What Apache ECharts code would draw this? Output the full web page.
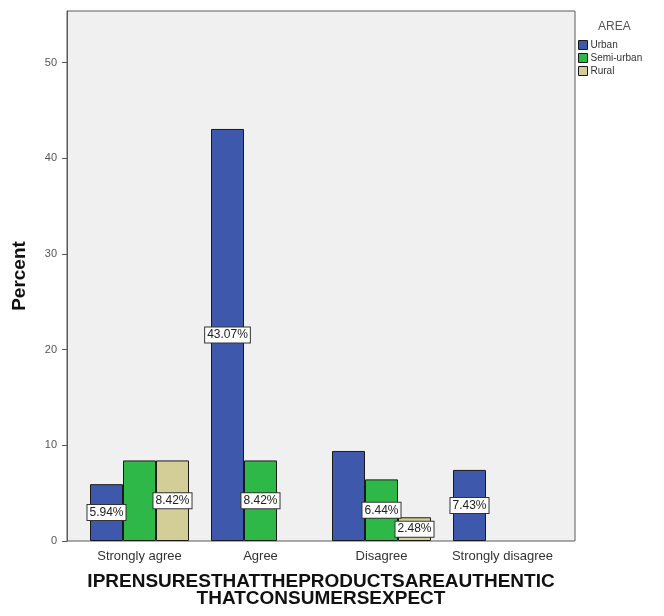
<!DOCTYPE html>
<html>
<head>
<meta charset="utf-8">
<script src="https://cdn.jsdelivr.net/npm/echarts@6/dist/echarts.min.js"></script>
<style>
  html, body { margin: 0; padding: 0; background: #fff; }
  #chart { width: 664px; height: 616px; }
</style>
</head>
<body>
<div id="chart"></div>
<script>
// Response categories on the x axis
const categories = ['Strongly agree', 'Agree', 'Disagree', 'Strongly disagree'];

// Percent of respondents, by area
const urban = [5.94, 43.07, 9.41, 7.43];
const semiUrban = [8.42, 8.42, 6.44, null];
const rural = [8.42, null, 2.48, null];

// Which bars carry a value label
const urbanLabelShown = [true, true, false, true];
const semiUrbanLabelShown = [false, true, true, false];
const ruralLabelShown = [true, false, true, false];

const yTicks = [0, 10, 20, 30, 40, 50];
const yMax = 55.4;

const seriesNames = ['Urban', 'Semi-urban', 'Rural'];
const seriesColors = ['#3e58ac', '#2eb848', '#d3ce97'];

const FONT = '"Liberation Sans", Arial, sans-serif';

function barData(values, shown) {
  return values.map((v, i) => ({
    value: v,
    label: { show: v != null && shown[i] }
  }));
}

const valueLabel = {
  position: 'inside',
  formatter: p => p.value.toFixed(2) + '%',
  fontFamily: FONT,
  fontSize: 12,
  color: '#222',
  backgroundColor: '#ffffff',
  borderColor: '#333',
  borderWidth: 1,
  padding: [2, 2, 1, 2]
};

function makeSeries(name, values, shown, color) {
  return {
    name: name,
    type: 'bar',
    xAxisIndex: 1,
    yAxisIndex: 1,
    barWidth: 33,
    barGap: '0%',
    itemStyle: { color: color, borderColor: '#1a1a1a', borderWidth: 1 },
    label: valueLabel,
    emphasis: { disabled: true },
    data: barData(values, shown)
  };
}

const chart = echarts.init(document.getElementById('chart'), null, { renderer: 'canvas' });

chart.setOption({
  animation: false,
  backgroundColor: '#ffffff',
  textStyle: { fontFamily: FONT },
  title: {
    text: 'AREA',
    left: 598,
    top: 21,
    padding: 0,
    textStyle: { fontFamily: FONT, fontSize: 12, fontWeight: 'normal', color: '#555' }
  },
  legend: {
    orient: 'vertical',
    left: 578,
    top: 40,
    padding: 0,
    itemWidth: 9,
    itemHeight: 9,
    itemGap: 3,
    icon: 'rect',
    itemStyle: { borderColor: '#1a1a1a', borderWidth: 1 },
    textStyle: { fontFamily: FONT, fontSize: 10, color: '#333', padding: [0, 0, 0, -2] },
    data: seriesNames
  },
  grid: [
    // framed plot area
    { left: 67, top: 11, width: 508, height: 530, show: true, outerBoundsMode: 'none',
      backgroundColor: '#f0f0f0', borderColor: '#5a5a5a', borderWidth: 1 },
    // inner band that holds the category slots
    { left: 79, top: 11, width: 484, height: 530, outerBoundsMode: 'none' }
  ],
  xAxis: [
    { gridIndex: 0, type: 'value', min: 0, max: 1, show: false },
    {
      gridIndex: 1,
      type: 'category',
      data: categories,
      axisLine: { show: false },
      axisTick: { alignWithLabel: true, length: 5, lineStyle: { color: '#555' } },
      axisLabel: { fontFamily: FONT, fontSize: 13, color: '#333', margin: 9, interval: 0, hideOverlap: false },
      name: 'IPRENSURESTHATTHEPRODUCTSAREAUTHENTIC\nTHATCONSUMERSEXPECT',
      nameLocation: 'middle',
      nameGap: 32,
      nameTextStyle: { fontFamily: FONT, fontSize: 19, fontWeight: 'bold', color: '#111', lineHeight: 17 }
    }
  ],
  yAxis: [
    {
      gridIndex: 0,
      type: 'value',
      min: 0,
      max: yMax,
      interval: 10,
      axisLine: { show: true, lineStyle: { color: '#5a5a5a' } },
      axisTick: { show: true, length: 5, customValues: yTicks, lineStyle: { color: '#555' } },
      axisLabel: { fontFamily: FONT, fontSize: 11, color: '#555', margin: 10, customValues: yTicks },
      splitLine: { show: false },
      name: 'Percent',
      nameLocation: 'middle',
      nameGap: 38,
      nameTextStyle: { fontFamily: FONT, fontSize: 19, fontWeight: 'bold', color: '#111' }
    },
    { gridIndex: 1, type: 'value', min: 0, max: yMax, show: false }
  ],
  series: [
    makeSeries(seriesNames[0], urban, urbanLabelShown, seriesColors[0]),
    makeSeries(seriesNames[1], semiUrban, semiUrbanLabelShown, seriesColors[1]),
    makeSeries(seriesNames[2], rural, ruralLabelShown, seriesColors[2])
  ]
});
</script>
</body>
</html>
